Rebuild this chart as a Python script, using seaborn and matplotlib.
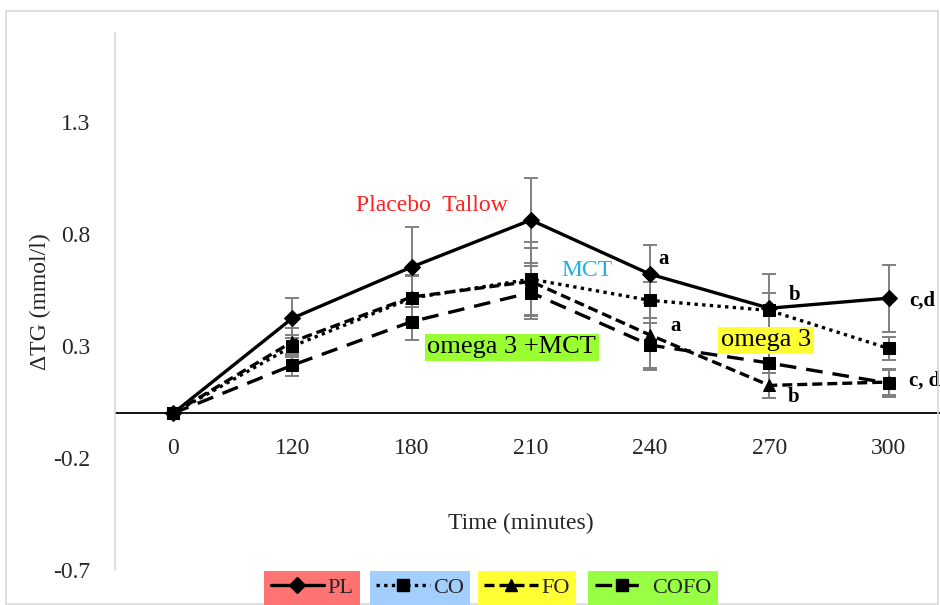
import matplotlib
matplotlib.use("Agg")
import matplotlib.pyplot as plt
import seaborn as sns
import numpy as np
import pandas as pd
from matplotlib.lines import Line2D
from matplotlib.patches import Rectangle

times = ["0", "120", "180", "210", "240", "270", "300"]
pl = [0.0, 0.425, 0.654, 0.864, 0.622, 0.47, 0.515]
co = [0.0, 0.30, 0.515, 0.60, 0.505, 0.46, 0.29]
fo = [0.0, 0.32, 0.52, 0.59, 0.35, 0.125, 0.14]
cofo = [0.0, 0.215, 0.41, 0.54, 0.305, 0.225, 0.135]
pl_err = [0.0, 0.09, 0.18, 0.19, 0.13, 0.155, 0.15]
co_err = [0.0, 0.05, 0.1, 0.165, 0.08, 0.08, 0.05]
fo_err = [0.0, 0.06, 0.1, 0.15, 0.155, 0.055, 0.06]
cofo_err = [0.0, 0.05, 0.08, 0.12, 0.1, 0.045, 0.06]
yticks = [-0.7, -0.2, 0.3, 0.8, 1.3]
legend_labels = ["PL", "CO", "FO", "COFO"]

sns.set_theme(style="white")
plt.rcParams["font.family"] = ["Liberation Serif", "DejaVu Serif"]

W, H = 940, 605
fig = plt.figure(figsize=(9.4, 6.05), dpi=100)
ax = fig.add_axes([115 / W, (H - 570) / H, (W - 115) / W, (570 - 33) / H])

# chart-area border
fig.patches.append(Rectangle((6 / W, 1 - 604 / H), (W - 8) / W, (604 - 11) / H,
                             transform=fig.transFigure, fill=False,
                             edgecolor="#d9d9d9", linewidth=1.2, zorder=0))

x = np.arange(len(times))
series = [
    (pl, pl_err, "PL", "D", 8, None),
    (co, co_err, "CO", "s", 9, (0, (1, 1.3))),
    (fo, fo_err, "FO", "^", 9, (0, (3, 1.5))),
    (cofo, cofo_err, "COFO", "s", 9, (0, (5, 3))),
]

# error bars
for vals, err, name, mk, ms, dash in series:
    ax.errorbar(x, vals, yerr=err, fmt="none", ecolor="#7f7f7f",
                elinewidth=1.4, capsize=5, capthick=1.4, zorder=2)

handles = []
for vals, err, name, mk, ms, dash in series:
    df = pd.DataFrame({"x": x, "y": vals})
    sns.lineplot(data=df, x="x", y="y", ax=ax, color="black", linewidth=2.4,
                 marker=mk, markersize=ms, markeredgecolor="black",
                 markerfacecolor="black", zorder=3, legend=False)
    line = ax.lines[-1]
    if dash is not None:
        line.set_linestyle(dash)
    handles.append(Line2D([0], [0], color="black", linewidth=2.4,
                          linestyle=dash if dash is not None else "-",
                          marker=mk, markersize=ms))

ax.axhline(0, color="black", linewidth=1.3, zorder=1)

ax.set_xlim(-0.486, 6.43)
ax.set_ylim(-0.7, 1.70)
ax.set_yticks(yticks)
ax.set_yticklabels([f"{v:.1f}" for v in yticks], fontsize=17)
ax.tick_params(axis="y", length=0, pad=18)
ax.set_xticks([])
for sp in ["top", "right", "bottom"]:
    ax.spines[sp].set_visible(False)
ax.spines["left"].set_color("#d9d9d9")
ax.spines["left"].set_linewidth(1.2)
ax.set_xlabel("")
ax.set_ylabel("")

# category labels just below the zero line
for i, t in enumerate(times):
    ax.text(i, -0.155, t, ha="center", va="center", fontsize=17)

fig.text(521 / W, 1 - 523 / H, "Time (minutes)", ha="center", va="center", fontsize=17)
fig.text(40 / W, 1 - 302 / H, "ΔTG (mmol/l)", ha="center", va="center",
         fontsize=17, rotation=90, family=["Liberation Serif", "DejaVu Sans"])

# annotations
ax.text(2.17, 0.927, "Placebo  Tallow", color="#ff2020", fontsize=17, ha="center", va="center")
ax.text(3.47, 0.64, "MCT", color="#1fb0e8", fontsize=17, ha="center", va="center")
ax.text(2.84, 0.295, "omega 3 +MCT", color="black", fontsize=19, ha="center", va="center",
        bbox=dict(boxstyle="square,pad=0.1", facecolor="#99ff33", edgecolor="none"))
ax.text(4.97, 0.327, "omega 3", color="black", fontsize=19, ha="center", va="center",
        bbox=dict(boxstyle="square,pad=0.1", facecolor="#ffff33", edgecolor="none"))
bold = dict(fontsize=15, fontweight="bold", color="black", va="center", ha="left")
ax.text(4.07, 0.69, "a", **bold)
ax.text(5.16, 0.528, "b", **bold)
ax.text(6.17, 0.506, "c,d", **bold)
ax.text(4.17, 0.39, "a", **bold)
ax.text(5.15, 0.072, "b", **bold)
ax.text(6.17, 0.148, "c, d", **bold)

# legend (each entry on its own coloured box)
leg_colors = ["#ff7373", "#a3cfff", "#ffff33", "#99ff44"]
leg_centers = [312, 420, 527, 653]
for h, lab, col, cx in zip(handles, legend_labels, leg_colors, leg_centers):
    lg = fig.legend([h], [lab], loc="center", bbox_to_anchor=(cx / W, 1 - 588 / H),
                    frameon=True, fancybox=False, facecolor=col, edgecolor="none",
                    framealpha=1, fontsize=16, handlelength=2.4, handletextpad=0.15,
                    borderpad=0.3, borderaxespad=0)
    fig.add_artist(lg)

fig.savefig("out.png", dpi=100)
